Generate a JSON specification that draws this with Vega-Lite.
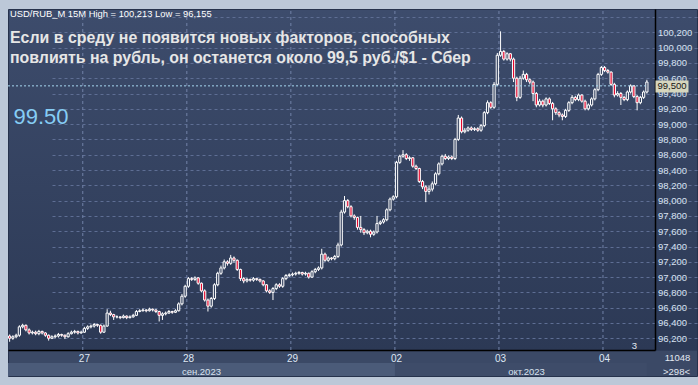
{
  "$schema": "https://vega.github.io/schema/vega-lite/v6.json",
  "width": 689,
  "height": 367,
  "autosize": {"type": "none"},
  "padding": {"left": 8, "top": 9, "right": 1, "bottom": 9},
  "background": "#bcc8d8",
  "config": {
    "font": "Liberation Sans",
    "view": {
      "fill": {"gradient": "linear", "x1": 0, "y1": 0, "x2": 0, "y2": 1,
        "stops": [
          {"offset": 0, "color": "#3d4c6c"},
          {"offset": 0.929, "color": "#2c3955"},
          {"offset": 0.9295, "color": "#3b4966"},
          {"offset": 1, "color": "#3b4966"}
        ]},
      "stroke": "#26324c",
      "strokeWidth": 1
    },
    "axis": {"labelFont": "Liberation Sans", "titleFont": "Liberation Sans"}
  },
  "title": {
    "text": "USD/RUB_M 15M High = 100,213 Low = 96,155",
    "subtitle": ["Если в среду не появится новых факторов, способных", "повлиять на рубль, он останется около 99,5 руб./$1 - Сбер"],
    "anchor": "start",
    "frame": "group",
    "orient": "top",
    "offset": -58,
    "dx": 2,
    "font": "Liberation Sans",
    "fontSize": 9.4,
    "fontWeight": "normal",
    "color": "#ffffff",
    "subtitleFont": "Liberation Sans",
    "subtitleFontSize": 15.9,
    "subtitleFontWeight": "bold",
    "subtitleColor": "#e6e6e6",
    "subtitleLineHeight": 20,
    "subtitlePadding": 10
  },
  "datasets": {
    "strips": [
      {"m": "09", "from": "2023-09-26T11:30", "to": "2023-10-02T07:00"},
      {"m": "10", "from": "2023-10-02T07:00", "to": "2023-10-04T13:30"}
    ],
    "days": [
      {"d": "2023-09-27T07:00"},
      {"d": "2023-09-28T07:00"},
      {"d": "2023-09-29T07:00"},
      {"d": "2023-10-02T07:00"},
      {"d": "2023-10-03T07:00"},
      {"d": "2023-10-04T07:00"}
    ],
    "level": [
      {"level": 99.5, "from": "2023-09-26T11:30", "to": "2023-10-04T13:30"}
    ],
    "candles": [
      {"t":"2023-09-26T11:30","o":96.23,"h":96.25,"l":96.155,"c":96.20},
      {"t":"2023-09-26T12:00","o":96.20,"h":96.24,"l":96.18,"c":96.22},
      {"t":"2023-09-26T12:30","o":96.22,"h":96.26,"l":96.20,"c":96.24},
      {"t":"2023-09-26T13:00","o":96.24,"h":96.37,"l":96.22,"c":96.35},
      {"t":"2023-09-26T13:30","o":96.35,"h":96.39,"l":96.33,"c":96.37},
      {"t":"2023-09-26T14:00","o":96.37,"h":96.38,"l":96.29,"c":96.31},
      {"t":"2023-09-26T14:30","o":96.31,"h":96.33,"l":96.25,"c":96.27},
      {"t":"2023-09-26T15:00","o":96.27,"h":96.30,"l":96.25,"c":96.28},
      {"t":"2023-09-26T15:30","o":96.28,"h":96.30,"l":96.24,"c":96.26},
      {"t":"2023-09-26T16:00","o":96.26,"h":96.31,"l":96.24,"c":96.29},
      {"t":"2023-09-26T16:30","o":96.29,"h":96.30,"l":96.25,"c":96.27},
      {"t":"2023-09-26T17:00","o":96.27,"h":96.28,"l":96.22,"c":96.24},
      {"t":"2023-09-26T17:30","o":96.24,"h":96.25,"l":96.17,"c":96.20},
      {"t":"2023-09-26T18:00","o":96.20,"h":96.24,"l":96.19,"c":96.22},
      {"t":"2023-09-26T18:30","o":96.22,"h":96.25,"l":96.20,"c":96.23},
      {"t":"2023-09-26T19:00","o":96.23,"h":96.27,"l":96.21,"c":96.25},
      {"t":"2023-09-26T19:30","o":96.25,"h":96.26,"l":96.22,"c":96.24},
      {"t":"2023-09-26T20:00","o":96.24,"h":96.25,"l":96.19,"c":96.22},
      {"t":"2023-09-26T20:30","o":96.22,"h":96.28,"l":96.21,"c":96.26},
      {"t":"2023-09-26T21:00","o":96.26,"h":96.30,"l":96.25,"c":96.28},
      {"t":"2023-09-26T21:30","o":96.28,"h":96.31,"l":96.26,"c":96.29},
      {"t":"2023-09-26T22:00","o":96.29,"h":96.30,"l":96.25,"c":96.27},
      {"t":"2023-09-26T22:30","o":96.27,"h":96.30,"l":96.26,"c":96.28},
      {"t":"2023-09-27T07:00","o":96.28,"h":96.35,"l":96.27,"c":96.33},
      {"t":"2023-09-27T07:30","o":96.33,"h":96.37,"l":96.31,"c":96.35},
      {"t":"2023-09-27T08:00","o":96.35,"h":96.38,"l":96.33,"c":96.36},
      {"t":"2023-09-27T08:30","o":96.36,"h":96.40,"l":96.34,"c":96.38},
      {"t":"2023-09-27T09:00","o":96.38,"h":96.39,"l":96.35,"c":96.37},
      {"t":"2023-09-27T09:30","o":96.37,"h":96.38,"l":96.26,"c":96.28},
      {"t":"2023-09-27T10:00","o":96.28,"h":96.38,"l":96.27,"c":96.36},
      {"t":"2023-09-27T10:30","o":96.36,"h":96.58,"l":96.35,"c":96.53},
      {"t":"2023-09-27T11:00","o":96.53,"h":96.56,"l":96.49,"c":96.51},
      {"t":"2023-09-27T11:30","o":96.51,"h":96.52,"l":96.44,"c":96.48},
      {"t":"2023-09-27T12:00","o":96.48,"h":96.50,"l":96.46,"c":96.48},
      {"t":"2023-09-27T12:30","o":96.48,"h":96.49,"l":96.45,"c":96.47},
      {"t":"2023-09-27T13:00","o":96.47,"h":96.51,"l":96.46,"c":96.49},
      {"t":"2023-09-27T13:30","o":96.49,"h":96.50,"l":96.45,"c":96.47},
      {"t":"2023-09-27T14:00","o":96.47,"h":96.50,"l":96.46,"c":96.48},
      {"t":"2023-09-27T14:30","o":96.48,"h":96.52,"l":96.47,"c":96.50},
      {"t":"2023-09-27T15:00","o":96.50,"h":96.57,"l":96.49,"c":96.55},
      {"t":"2023-09-27T15:30","o":96.55,"h":96.58,"l":96.54,"c":96.56},
      {"t":"2023-09-27T16:00","o":96.56,"h":96.59,"l":96.55,"c":96.57},
      {"t":"2023-09-27T16:30","o":96.57,"h":96.58,"l":96.54,"c":96.56},
      {"t":"2023-09-27T17:00","o":96.56,"h":96.60,"l":96.55,"c":96.58},
      {"t":"2023-09-27T17:30","o":96.58,"h":96.59,"l":96.55,"c":96.57},
      {"t":"2023-09-27T18:00","o":96.57,"h":96.58,"l":96.53,"c":96.55},
      {"t":"2023-09-27T18:30","o":96.55,"h":96.56,"l":96.42,"c":96.50},
      {"t":"2023-09-27T19:00","o":96.50,"h":96.54,"l":96.44,"c":96.52},
      {"t":"2023-09-27T19:30","o":96.52,"h":96.55,"l":96.50,"c":96.53},
      {"t":"2023-09-27T20:00","o":96.53,"h":96.57,"l":96.52,"c":96.55},
      {"t":"2023-09-27T20:30","o":96.55,"h":96.56,"l":96.52,"c":96.54},
      {"t":"2023-09-27T21:00","o":96.54,"h":96.58,"l":96.53,"c":96.56},
      {"t":"2023-09-27T21:30","o":96.56,"h":96.67,"l":96.55,"c":96.65},
      {"t":"2023-09-27T22:00","o":96.65,"h":96.78,"l":96.63,"c":96.75},
      {"t":"2023-09-27T22:30","o":96.75,"h":96.90,"l":96.73,"c":96.88},
      {"t":"2023-09-28T07:00","o":96.88,"h":97.00,"l":96.86,"c":96.98},
      {"t":"2023-09-28T07:30","o":96.98,"h":97.00,"l":96.95,"c":96.97},
      {"t":"2023-09-28T08:00","o":96.97,"h":97.01,"l":96.95,"c":96.99},
      {"t":"2023-09-28T08:30","o":96.99,"h":97.00,"l":96.90,"c":96.92},
      {"t":"2023-09-28T09:00","o":96.92,"h":96.93,"l":96.80,"c":96.82},
      {"t":"2023-09-28T09:30","o":96.82,"h":96.84,"l":96.68,"c":96.70},
      {"t":"2023-09-28T10:00","o":96.70,"h":96.72,"l":96.55,"c":96.62},
      {"t":"2023-09-28T10:30","o":96.62,"h":96.74,"l":96.60,"c":96.72},
      {"t":"2023-09-28T11:00","o":96.72,"h":96.92,"l":96.70,"c":96.90},
      {"t":"2023-09-28T11:30","o":96.90,"h":97.07,"l":96.88,"c":97.05},
      {"t":"2023-09-28T12:00","o":97.05,"h":97.15,"l":97.03,"c":97.12},
      {"t":"2023-09-28T12:30","o":97.12,"h":97.23,"l":97.10,"c":97.20},
      {"t":"2023-09-28T13:00","o":97.20,"h":97.22,"l":97.15,"c":97.18},
      {"t":"2023-09-28T13:30","o":97.18,"h":97.29,"l":97.16,"c":97.25},
      {"t":"2023-09-28T14:00","o":97.25,"h":97.27,"l":97.19,"c":97.22},
      {"t":"2023-09-28T14:30","o":97.22,"h":97.23,"l":97.08,"c":97.10},
      {"t":"2023-09-28T15:00","o":97.10,"h":97.11,"l":96.95,"c":96.98},
      {"t":"2023-09-28T15:30","o":96.98,"h":97.00,"l":96.92,"c":96.95},
      {"t":"2023-09-28T16:00","o":96.95,"h":96.99,"l":96.93,"c":96.97},
      {"t":"2023-09-28T16:30","o":96.97,"h":96.98,"l":96.94,"c":96.96},
      {"t":"2023-09-28T17:00","o":96.96,"h":97.00,"l":96.94,"c":96.98},
      {"t":"2023-09-28T17:30","o":96.98,"h":96.99,"l":96.95,"c":96.97},
      {"t":"2023-09-28T18:00","o":96.97,"h":96.98,"l":96.93,"c":96.95},
      {"t":"2023-09-28T18:30","o":96.95,"h":96.96,"l":96.88,"c":96.90},
      {"t":"2023-09-28T19:00","o":96.90,"h":96.91,"l":96.80,"c":96.82},
      {"t":"2023-09-28T19:30","o":96.82,"h":96.84,"l":96.78,"c":96.80},
      {"t":"2023-09-28T20:00","o":96.80,"h":96.87,"l":96.70,"c":96.85},
      {"t":"2023-09-28T20:30","o":96.85,"h":96.92,"l":96.83,"c":96.90},
      {"t":"2023-09-28T21:00","o":96.90,"h":96.92,"l":96.86,"c":96.88},
      {"t":"2023-09-28T21:30","o":96.88,"h":97.00,"l":96.86,"c":96.98},
      {"t":"2023-09-28T22:00","o":96.98,"h":97.04,"l":96.96,"c":97.02},
      {"t":"2023-09-28T22:30","o":97.02,"h":97.05,"l":97.00,"c":97.03},
      {"t":"2023-09-29T07:00","o":97.03,"h":97.06,"l":97.01,"c":97.04},
      {"t":"2023-09-29T07:30","o":97.04,"h":97.07,"l":97.02,"c":97.05},
      {"t":"2023-09-29T08:00","o":97.05,"h":97.08,"l":97.03,"c":97.06},
      {"t":"2023-09-29T08:30","o":97.06,"h":97.07,"l":97.02,"c":97.04},
      {"t":"2023-09-29T09:00","o":97.04,"h":97.07,"l":97.02,"c":97.05},
      {"t":"2023-09-29T09:30","o":97.05,"h":97.06,"l":96.98,"c":97.00},
      {"t":"2023-09-29T10:00","o":97.00,"h":97.09,"l":96.99,"c":97.07},
      {"t":"2023-09-29T10:30","o":97.07,"h":97.12,"l":97.05,"c":97.10},
      {"t":"2023-09-29T11:00","o":97.10,"h":97.14,"l":97.08,"c":97.12},
      {"t":"2023-09-29T11:30","o":97.12,"h":97.37,"l":97.10,"c":97.30},
      {"t":"2023-09-29T12:00","o":97.30,"h":97.32,"l":97.20,"c":97.22},
      {"t":"2023-09-29T12:30","o":97.22,"h":97.27,"l":97.20,"c":97.25},
      {"t":"2023-09-29T13:00","o":97.25,"h":97.26,"l":97.22,"c":97.24},
      {"t":"2023-09-29T13:30","o":97.24,"h":97.29,"l":97.22,"c":97.27},
      {"t":"2023-09-29T14:00","o":97.27,"h":97.45,"l":97.25,"c":97.42},
      {"t":"2023-09-29T14:30","o":97.42,"h":97.88,"l":97.40,"c":97.85},
      {"t":"2023-09-29T15:00","o":97.85,"h":98.06,"l":97.83,"c":98.00},
      {"t":"2023-09-29T15:30","o":98.00,"h":98.02,"l":97.90,"c":97.92},
      {"t":"2023-09-29T16:00","o":97.92,"h":97.94,"l":97.78,"c":97.80},
      {"t":"2023-09-29T16:30","o":97.80,"h":97.82,"l":97.75,"c":97.78},
      {"t":"2023-09-29T17:00","o":97.78,"h":97.79,"l":97.62,"c":97.65},
      {"t":"2023-09-29T17:30","o":97.65,"h":97.80,"l":97.58,"c":97.62},
      {"t":"2023-09-29T18:00","o":97.62,"h":97.64,"l":97.55,"c":97.58},
      {"t":"2023-09-29T18:30","o":97.58,"h":97.62,"l":97.56,"c":97.60},
      {"t":"2023-09-29T19:00","o":97.60,"h":97.62,"l":97.52,"c":97.56},
      {"t":"2023-09-29T19:30","o":97.56,"h":97.61,"l":97.54,"c":97.59},
      {"t":"2023-09-29T20:00","o":97.59,"h":97.80,"l":97.57,"c":97.70},
      {"t":"2023-09-29T20:30","o":97.70,"h":97.74,"l":97.68,"c":97.72},
      {"t":"2023-09-29T21:00","o":97.72,"h":97.77,"l":97.70,"c":97.75},
      {"t":"2023-09-29T21:30","o":97.75,"h":97.90,"l":97.73,"c":97.88},
      {"t":"2023-09-29T22:00","o":97.88,"h":98.04,"l":97.86,"c":98.02},
      {"t":"2023-09-29T22:30","o":98.02,"h":98.07,"l":98.00,"c":98.05},
      {"t":"2023-10-02T07:00","o":98.05,"h":98.52,"l":98.03,"c":98.50},
      {"t":"2023-10-02T07:30","o":98.50,"h":98.60,"l":98.48,"c":98.58},
      {"t":"2023-10-02T08:00","o":98.58,"h":98.66,"l":98.56,"c":98.60},
      {"t":"2023-10-02T08:30","o":98.60,"h":98.62,"l":98.53,"c":98.55},
      {"t":"2023-10-02T09:00","o":98.55,"h":98.58,"l":98.52,"c":98.56},
      {"t":"2023-10-02T09:30","o":98.56,"h":98.57,"l":98.43,"c":98.45},
      {"t":"2023-10-02T10:00","o":98.45,"h":98.47,"l":98.40,"c":98.42},
      {"t":"2023-10-02T10:30","o":98.42,"h":98.43,"l":98.23,"c":98.25},
      {"t":"2023-10-02T11:00","o":98.25,"h":98.27,"l":98.15,"c":98.18},
      {"t":"2023-10-02T11:30","o":98.18,"h":98.20,"l":97.98,"c":98.12},
      {"t":"2023-10-02T12:00","o":98.12,"h":98.20,"l":98.08,"c":98.15},
      {"t":"2023-10-02T12:30","o":98.15,"h":98.25,"l":98.12,"c":98.22},
      {"t":"2023-10-02T13:00","o":98.22,"h":98.37,"l":98.20,"c":98.35},
      {"t":"2023-10-02T13:30","o":98.35,"h":98.50,"l":98.33,"c":98.48},
      {"t":"2023-10-02T14:00","o":98.48,"h":98.60,"l":98.46,"c":98.58},
      {"t":"2023-10-02T14:30","o":98.58,"h":98.61,"l":98.53,"c":98.55},
      {"t":"2023-10-02T15:00","o":98.55,"h":98.59,"l":98.53,"c":98.57},
      {"t":"2023-10-02T15:30","o":98.57,"h":98.59,"l":98.53,"c":98.55},
      {"t":"2023-10-02T16:00","o":98.55,"h":98.82,"l":98.53,"c":98.80},
      {"t":"2023-10-02T16:30","o":98.80,"h":99.12,"l":98.78,"c":99.08},
      {"t":"2023-10-02T17:00","o":99.08,"h":99.10,"l":98.88,"c":98.90},
      {"t":"2023-10-02T17:30","o":98.90,"h":98.95,"l":98.88,"c":98.92},
      {"t":"2023-10-02T18:00","o":98.92,"h":98.97,"l":98.90,"c":98.95},
      {"t":"2023-10-02T18:30","o":98.95,"h":98.97,"l":98.91,"c":98.93},
      {"t":"2023-10-02T19:00","o":98.93,"h":98.96,"l":98.91,"c":98.94},
      {"t":"2023-10-02T19:30","o":98.94,"h":98.96,"l":98.90,"c":98.92},
      {"t":"2023-10-02T20:00","o":98.92,"h":99.00,"l":98.90,"c":98.98},
      {"t":"2023-10-02T20:30","o":98.98,"h":99.17,"l":98.96,"c":99.15},
      {"t":"2023-10-02T21:00","o":99.15,"h":99.31,"l":99.13,"c":99.28},
      {"t":"2023-10-02T21:30","o":99.28,"h":99.30,"l":99.20,"c":99.22},
      {"t":"2023-10-02T22:00","o":99.22,"h":99.55,"l":99.20,"c":99.52},
      {"t":"2023-10-02T22:30","o":99.52,"h":99.93,"l":99.50,"c":99.90},
      {"t":"2023-10-03T07:00","o":99.90,"h":100.213,"l":99.88,"c":99.95},
      {"t":"2023-10-03T07:30","o":99.95,"h":99.97,"l":99.83,"c":99.85},
      {"t":"2023-10-03T08:00","o":99.85,"h":99.94,"l":99.83,"c":99.92},
      {"t":"2023-10-03T08:30","o":99.92,"h":99.93,"l":99.82,"c":99.85},
      {"t":"2023-10-03T09:00","o":99.85,"h":99.87,"l":99.55,"c":99.60},
      {"t":"2023-10-03T09:30","o":99.60,"h":99.62,"l":99.30,"c":99.35},
      {"t":"2023-10-03T10:00","o":99.35,"h":99.63,"l":99.33,"c":99.60},
      {"t":"2023-10-03T10:30","o":99.60,"h":99.70,"l":99.58,"c":99.65},
      {"t":"2023-10-03T11:00","o":99.65,"h":99.67,"l":99.55,"c":99.58},
      {"t":"2023-10-03T11:30","o":99.58,"h":99.60,"l":99.52,"c":99.55},
      {"t":"2023-10-03T12:00","o":99.55,"h":99.57,"l":99.30,"c":99.40},
      {"t":"2023-10-03T12:30","o":99.40,"h":99.42,"l":99.22,"c":99.25},
      {"t":"2023-10-03T13:00","o":99.25,"h":99.33,"l":99.23,"c":99.30},
      {"t":"2023-10-03T13:30","o":99.30,"h":99.32,"l":99.22,"c":99.25},
      {"t":"2023-10-03T14:00","o":99.25,"h":99.35,"l":99.23,"c":99.33},
      {"t":"2023-10-03T14:30","o":99.33,"h":99.35,"l":99.25,"c":99.27},
      {"t":"2023-10-03T15:00","o":99.27,"h":99.29,"l":99.05,"c":99.20},
      {"t":"2023-10-03T15:30","o":99.20,"h":99.22,"l":99.12,"c":99.15},
      {"t":"2023-10-03T16:00","o":99.15,"h":99.17,"l":99.09,"c":99.12},
      {"t":"2023-10-03T16:30","o":99.12,"h":99.14,"l":99.05,"c":99.10},
      {"t":"2023-10-03T17:00","o":99.10,"h":99.20,"l":99.08,"c":99.18},
      {"t":"2023-10-03T17:30","o":99.18,"h":99.30,"l":99.16,"c":99.28},
      {"t":"2023-10-03T18:00","o":99.28,"h":99.38,"l":99.26,"c":99.35},
      {"t":"2023-10-03T18:30","o":99.35,"h":99.37,"l":99.30,"c":99.32},
      {"t":"2023-10-03T19:00","o":99.32,"h":99.40,"l":99.30,"c":99.38},
      {"t":"2023-10-03T19:30","o":99.38,"h":99.39,"l":99.28,"c":99.30},
      {"t":"2023-10-03T20:00","o":99.30,"h":99.32,"l":99.18,"c":99.20},
      {"t":"2023-10-03T20:30","o":99.20,"h":99.27,"l":99.18,"c":99.25},
      {"t":"2023-10-03T21:00","o":99.25,"h":99.35,"l":99.23,"c":99.33},
      {"t":"2023-10-03T21:30","o":99.33,"h":99.47,"l":99.31,"c":99.45},
      {"t":"2023-10-03T22:00","o":99.45,"h":99.67,"l":99.43,"c":99.65},
      {"t":"2023-10-03T22:30","o":99.65,"h":99.76,"l":99.63,"c":99.74},
      {"t":"2023-10-04T07:00","o":99.74,"h":99.76,"l":99.68,"c":99.70},
      {"t":"2023-10-04T07:30","o":99.70,"h":99.72,"l":99.66,"c":99.68},
      {"t":"2023-10-04T08:00","o":99.68,"h":99.69,"l":99.50,"c":99.52},
      {"t":"2023-10-04T08:30","o":99.52,"h":99.54,"l":99.35,"c":99.38},
      {"t":"2023-10-04T09:00","o":99.38,"h":99.43,"l":99.36,"c":99.40},
      {"t":"2023-10-04T09:30","o":99.40,"h":99.42,"l":99.25,"c":99.35},
      {"t":"2023-10-04T10:00","o":99.35,"h":99.37,"l":99.30,"c":99.32},
      {"t":"2023-10-04T10:30","o":99.32,"h":99.44,"l":99.30,"c":99.42},
      {"t":"2023-10-04T11:00","o":99.42,"h":99.52,"l":99.40,"c":99.50},
      {"t":"2023-10-04T11:30","o":99.50,"h":99.51,"l":99.34,"c":99.36},
      {"t":"2023-10-04T12:00","o":99.36,"h":99.38,"l":99.18,"c":99.28},
      {"t":"2023-10-04T12:30","o":99.28,"h":99.37,"l":99.26,"c":99.35},
      {"t":"2023-10-04T13:00","o":99.35,"h":99.44,"l":99.33,"c":99.42},
      {"t":"2023-10-04T13:30","o":99.42,"h":99.58,"l":99.40,"c":99.55}
    ]
  },
  "resolve": {
    "scale": {"y": "independent"},
    "axis": {"x": "independent", "y": "independent"}
  },
  "layer": [
    {
      "resolve": {"axis": {"x": "independent", "y": "independent"}},
      "layer": [
        {
          "data": {"name": "days"},
          "mark": {"type": "rule", "color": "#7282a8", "strokeDash": [3, 3], "strokeWidth": 1},
          "encoding": {
            "x": {"field": "d", "type": "ordinal", "bandPosition": 0,
              "scale": {"type": "band", "range": [0, 647], "paddingInner": 0, "paddingOuter": 1.04, "align": 0},
              "axis": null},
            "y": {"datum": 96.047, "type": "quantitative",
              "scale": {"domain": [96.047, 100.505], "range": [341, 0], "zero": false, "nice": false},
              "axis": null},
            "y2": {"datum": 100.505}
          }
        },
        {
          "data": {"name": "candles"},
          "mark": {"type": "rule", "color": "#ffffff", "strokeWidth": 1},
          "encoding": {
            "x": {"field": "t", "type": "ordinal",
              "scale": {"type": "band", "range": [0, 647], "paddingInner": 0, "paddingOuter": 1.04, "align": 0},
              "axis": null},
            "y": {"field": "l", "type": "quantitative",
              "scale": {"domain": [96.047, 100.505], "range": [341, 0], "zero": false, "nice": false},
              "axis": null},
            "y2": {"field": "h"}
          }
        },
        {
          "data": {"name": "candles"},
          "mark": {"type": "bar", "width": 2.2, "stroke": "#ffffff", "strokeWidth": 1},
          "encoding": {
            "x": {"field": "t", "type": "ordinal",
              "scale": {"type": "band", "range": [0, 647], "paddingInner": 0, "paddingOuter": 1.04, "align": 0},
              "axis": {
                "orient": "bottom", "offset": -26,
                "values": ["2023-09-27T07:00", "2023-09-28T07:00", "2023-09-29T07:00", "2023-10-02T07:00", "2023-10-03T07:00", "2023-10-04T07:00"],
                "bandPosition": 0,
                "labelExpr": "substring(datum.value, 8, 10)",
                "labelAngle": 0, "labelFontSize": 10, "labelColor": "#dfe7f3",
                "labelPadding": 3, "labelBaseline": "top",
                "ticks": false, "domain": true, "domainColor": "#000000", "domainWidth": 1.5,
                "grid": false,
                "title": "11048", "titleX": 669, "titleY": 7, "titleAlign": "center",
                "titleBaseline": "middle", "titleFontSize": 9.5, "titleFontWeight": "normal",
                "titleColor": "#e2e8f2"
              }
            },
            "y": {"field": "o", "type": "quantitative",
              "scale": {"domain": [96.047, 100.505], "range": [341, 0], "zero": false, "nice": false},
              "axis": {
                "orient": "right", "offset": -42,
                "values": [96.2, 96.4, 96.6, 96.8, 97.0, 97.2, 97.4, 97.6, 97.8, 98.0, 98.2, 98.4, 98.6, 98.8, 99.0, 99.2, 99.4, 99.6, 99.8, 100.0, 100.2, 100.4],
                "labelExpr": "datum.value > 100.3 ? '' : replace(format(datum.value, '.3f'), '.', ',')",
                "labelFontSize": 9.5, "labelColor": "#d8e2f2", "labelPadding": 2.5,
                "labelAlign": "left", "labelBaseline": "middle",
                "ticks": false, "domain": true, "domainColor": "#000000", "domainWidth": 1.5,
                "grid": true, "gridColor": "#5e6e94", "gridDash": [3, 3], "gridWidth": 1,
                "title": null
              }
            },
            "y2": {"field": "c"},
            "fill": {"condition": {"test": "datum.c < datum.o", "value": "#e3072d"}, "value": "#34425f"}
          }
        },
        {
          "data": {"name": "level"},
          "mark": {"type": "rule", "color": "#a6d6f0", "strokeDash": [2, 2], "strokeWidth": 1},
          "encoding": {
            "x": {"field": "from", "type": "ordinal", "bandPosition": 0,
              "scale": {"type": "band", "range": [0, 647], "paddingInner": 0, "paddingOuter": 1.04, "align": 0},
              "axis": null},
            "x2": {"field": "to"},
            "y": {"field": "level", "type": "quantitative",
              "scale": {"domain": [96.047, 100.505], "range": [341, 0], "zero": false, "nice": false},
              "axis": {
                "orient": "right", "offset": -42,
                "values": [99.5],
                "labelExpr": "'99,500'",
                "grid": false, "domain": false,
                "ticks": true, "tickSize": 33, "tickWidth": 12, "tickColor": "#d6d6be",
                "labelPadding": -31, "labelAlign": "left", "labelBaseline": "middle",
                "labelColor": "#151515", "labelFontSize": 9.5,
                "title": "99.50", "titleX": -642, "titleY": 114, "titleAngle": 0,
                "titleAlign": "left", "titleBaseline": "alphabetic",
                "titleFontSize": 22, "titleFontWeight": "normal", "titleColor": "#86cdf5",
                "zindex": 1
              }
            }
          }
        }
      ]
    },
    {
      "data": {"name": "strips"},
      "mark": {"type": "rect"},
      "encoding": {
        "x": {
          "field": "from", "type": "ordinal", "bandPosition": 0,
          "scale": {"type": "band", "range": [0, 647], "paddingInner": 0, "paddingOuter": 1.04, "align": 0},
          "axis": {
            "orient": "bottom", "offset": -26,
            "values": ["2023-09-28T09:00", "2023-10-03T11:00"],
            "labelExpr": "substring(datum.value, 5, 7) == '09' ? 'сен.2023' : 'окт.2023'",
            "labelAngle": 0, "labelFontSize": 9.5, "labelColor": "#d8e1ee",
            "labelPadding": 16, "labelBaseline": "top",
            "domain": false, "ticks": false, "grid": false,
            "title": ">298<", "titleX": 668, "titleY": 21, "titleAlign": "center",
            "titleBaseline": "middle", "titleFontSize": 9.5, "titleFontWeight": "normal",
            "titleColor": "#e2e8f2", "zindex": 1
          }
        },
        "x2": {"field": "to"},
        "y": {
          "datum": "месяц", "type": "nominal",
          "scale": {"range": [354, 367], "paddingInner": 0, "paddingOuter": 0},
          "axis": {
            "orient": "left", "labels": false, "ticks": false, "domain": false, "grid": false,
            "title": "3", "titleX": 626, "titleY": 336, "titleAngle": 0,
            "titleAlign": "center", "titleBaseline": "middle",
            "titleFontSize": 9.5, "titleFontWeight": "normal", "titleColor": "#e2e8f2"
          }
        },
        "color": {
          "field": "m", "type": "nominal",
          "scale": {"domain": ["09", "10"], "range": ["#4b5b79", "#3e4c69"]},
          "legend": null
        }
      }
    }
  ]
}
